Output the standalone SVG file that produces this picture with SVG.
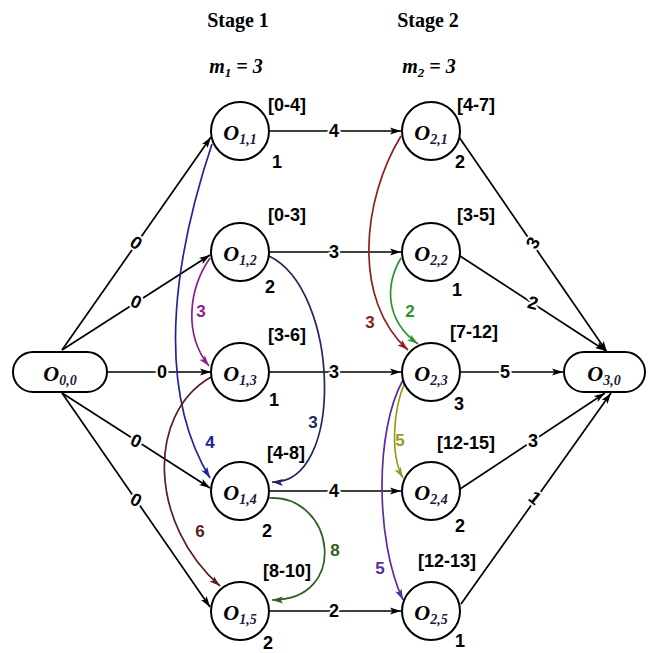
<svg xmlns="http://www.w3.org/2000/svg" width="648" height="653" viewBox="0 0 648 653">
  <style>
    .node { fill: #ffffff; stroke: #000000; stroke-width: 2; }
    .edge { fill: none; stroke: #000000; stroke-width: 1.7; }
    .arc { fill: none; stroke-width: 1.7; }
    .nlabel { font-family: "Liberation Serif", "Times New Roman", serif; font-weight: bold; font-style: italic; font-size: 22px; fill: #000000; }
    .nsub { font-size: 14px; fill: #1a1a3a; }
    .stage { font-family: "Liberation Serif", "Times New Roman", serif; font-weight: bold; font-size: 20px; fill: #000000; }
    .mlabel { font-family: "Liberation Serif", "Times New Roman", serif; font-weight: bold; font-style: italic; font-size: 20px; fill: #000000; }
    .info { font-family: "Liberation Sans", Arial, sans-serif; font-weight: bold; font-size: 18px; fill: #000000; }
    .wlabel { font-family: "Liberation Sans", Arial, sans-serif; font-weight: bold; font-size: 18px; fill: #000000; text-anchor: middle; paint-order: stroke; stroke: #ffffff; stroke-width: 4; stroke-linejoin: round; }
    .clabel { font-family: "Liberation Sans", Arial, sans-serif; font-weight: bold; font-size: 17px; text-anchor: middle; }
  </style>
  <defs>
    <marker id="ah-black" markerUnits="userSpaceOnUse" markerWidth="12" markerHeight="8" refX="11" refY="4" orient="auto"><path d="M0,0.5 L11,4 L0,7.5 L2.5,4 z" fill="#000000"/></marker>
    <marker id="ah-blue" markerUnits="userSpaceOnUse" markerWidth="12" markerHeight="8" refX="11" refY="4" orient="auto"><path d="M0,0.5 L11,4 L0,7.5 L2.5,4 z" fill="#23239a"/></marker>
    <marker id="ah-purple" markerUnits="userSpaceOnUse" markerWidth="12" markerHeight="8" refX="11" refY="4" orient="auto"><path d="M0,0.5 L11,4 L0,7.5 L2.5,4 z" fill="#8e1e8e"/></marker>
    <marker id="ah-navy" markerUnits="userSpaceOnUse" markerWidth="12" markerHeight="8" refX="11" refY="4" orient="auto"><path d="M0,0.5 L11,4 L0,7.5 L2.5,4 z" fill="#25255f"/></marker>
    <marker id="ah-brown" markerUnits="userSpaceOnUse" markerWidth="12" markerHeight="8" refX="11" refY="4" orient="auto"><path d="M0,0.5 L11,4 L0,7.5 L2.5,4 z" fill="#5a1e1e"/></marker>
    <marker id="ah-dkgreen" markerUnits="userSpaceOnUse" markerWidth="12" markerHeight="8" refX="11" refY="4" orient="auto"><path d="M0,0.5 L11,4 L0,7.5 L2.5,4 z" fill="#2e5e22"/></marker>
    <marker id="ah-red" markerUnits="userSpaceOnUse" markerWidth="12" markerHeight="8" refX="11" refY="4" orient="auto"><path d="M0,0.5 L11,4 L0,7.5 L2.5,4 z" fill="#8e2020"/></marker>
    <marker id="ah-green" markerUnits="userSpaceOnUse" markerWidth="12" markerHeight="8" refX="11" refY="4" orient="auto"><path d="M0,0.5 L11,4 L0,7.5 L2.5,4 z" fill="#2a962a"/></marker>
    <marker id="ah-olive" markerUnits="userSpaceOnUse" markerWidth="12" markerHeight="8" refX="11" refY="4" orient="auto"><path d="M0,0.5 L11,4 L0,7.5 L2.5,4 z" fill="#9a9a22"/></marker>
    <marker id="ah-indigo" markerUnits="userSpaceOnUse" markerWidth="12" markerHeight="8" refX="11" refY="4" orient="auto"><path d="M0,0.5 L11,4 L0,7.5 L2.5,4 z" fill="#5a2a9e"/></marker>
  </defs>

  <rect width="648" height="653" fill="#ffffff"/>

  <!-- stage headers -->
  <g id="headers">
    <text class="stage" x="238" y="27" text-anchor="middle">Stage 1</text>
    <text class="stage" x="428" y="27" text-anchor="middle">Stage 2</text>
    <text class="mlabel" x="236" y="73" text-anchor="middle">m<tspan font-size="13" dy="4">1</tspan><tspan dy="-4"> = 3</tspan></text>
    <text class="mlabel" x="429" y="73" text-anchor="middle">m<tspan font-size="13" dy="4">2</tspan><tspan dy="-4"> = 3</tspan></text>
  </g>

  <!-- connectors -->
  <g id="connectors">
    <!-- source to stage 1 -->
    <path class="edge" d="M62,350 L211,137" marker-end="url(#ah-black)"/>
    <path class="edge" d="M62,350 L210,255" marker-end="url(#ah-black)"/>
    <path class="edge" d="M107,372 L211,372" marker-end="url(#ah-black)"/>
    <path class="edge" d="M62,393 L210,488" marker-end="url(#ah-black)"/>
    <path class="edge" d="M62,393 L210,607" marker-end="url(#ah-black)"/>
    <!-- stage 1 to stage 2 -->
    <path class="edge" d="M269,131 L401,131" marker-end="url(#ah-black)"/>
    <path class="edge" d="M269,252 L401,252" marker-end="url(#ah-black)"/>
    <path class="edge" d="M269,372 L401,372" marker-end="url(#ah-black)"/>
    <path class="edge" d="M269,491 L401,491" marker-end="url(#ah-black)"/>
    <path class="edge" d="M269,611 L401,611" marker-end="url(#ah-black)"/>
    <!-- stage 2 to sink -->
    <path class="edge" d="M459,137 L607,352" marker-end="url(#ah-black)"/>
    <path class="edge" d="M460,256 L606,351" marker-end="url(#ah-black)"/>
    <path class="edge" d="M460,372 L563,372" marker-end="url(#ah-black)"/>
    <path class="edge" d="M460,489 L605,393" marker-end="url(#ah-black)"/>
    <path class="edge" d="M461,604 L611,393" marker-end="url(#ah-black)"/>

    <!-- weights on straight edges -->
    <text class="wlabel" transform="translate(136,243) rotate(35)" y="6">0</text>
    <text class="wlabel" transform="translate(136,302) rotate(25)" y="6">0</text>
    <text class="wlabel" x="162" y="378">0</text>
    <text class="wlabel" transform="translate(136,441) rotate(25)" y="6">0</text>
    <text class="wlabel" transform="translate(136,500) rotate(28)" y="6">0</text>
    <text class="wlabel" x="334" y="137">4</text>
    <text class="wlabel" x="334" y="258">3</text>
    <text class="wlabel" x="334" y="378">3</text>
    <text class="wlabel" x="334" y="497">4</text>
    <text class="wlabel" x="334" y="617">2</text>
    <text class="wlabel" transform="translate(533,243) rotate(-60)" y="6">3</text>
    <text class="wlabel" transform="translate(533,303) rotate(15)" y="6">2</text>
    <text class="wlabel" x="505" y="378">5</text>
    <text class="wlabel" transform="translate(533,441)" y="6">3</text>
    <text class="wlabel" transform="translate(535,498) rotate(40)" y="6">1</text>

    <!-- precedence arcs within stage 1 -->
    <path class="arc" stroke="#23239a" d="M212,144 C180,240 150,380 210,478" marker-end="url(#ah-blue)"/>
    <path class="arc" stroke="#8e1e8e" d="M210,258 C188,290 184,335 209,366" marker-end="url(#ah-purple)"/>
    <path class="arc" stroke="#25255f" d="M269,256 C340,290 345,485 272,482" marker-end="url(#ah-navy)"/>
    <path class="arc" stroke="#5a1e1e" d="M211,377 C145,415 150,525 220,586" marker-end="url(#ah-brown)"/>
    <path class="arc" stroke="#2e5e22" d="M269,498 C335,495 350,600 272,600" marker-end="url(#ah-dkgreen)"/>
    <!-- precedence arcs within stage 2 -->
    <path class="arc" stroke="#8e2020" d="M401,136 C362,200 352,300 408,350" marker-end="url(#ah-red)"/>
    <path class="arc" stroke="#2a962a" d="M401,258 C385,285 385,320 418,344" marker-end="url(#ah-green)"/>
    <path class="arc" stroke="#9a9a22" d="M405,382 C393,410 390,455 403,478" marker-end="url(#ah-olive)"/>
    <path class="arc" stroke="#5a2a9e" d="M403,380 C375,430 375,540 403,600" marker-end="url(#ah-indigo)"/>

    <!-- arc weights -->
    <text class="clabel" fill="#23239a" x="210" y="448">4</text>
    <text class="clabel" fill="#8e1e8e" x="201" y="317">3</text>
    <text class="clabel" fill="#25255f" x="313" y="428">3</text>
    <text class="clabel" fill="#5a1e1e" x="200" y="537">6</text>
    <text class="clabel" fill="#2e5e22" x="335" y="556">8</text>
    <text class="clabel" fill="#8e2020" x="370" y="328">3</text>
    <text class="clabel" fill="#2a962a" x="410" y="317">2</text>
    <text class="clabel" fill="#9a9a22" x="400" y="446">5</text>
    <text class="clabel" fill="#5a2a9e" x="380" y="574">5</text>
  </g>

  <!-- source and sink -->
  <g id="O00">
    <rect class="node" x="13" y="352" width="94" height="40" rx="20" ry="20"/>
    <text class="nlabel" x="60" y="381" text-anchor="middle">O<tspan class="nsub" dy="4">0,0</tspan></text>
  </g>
  <g id="O30">
    <rect class="node" x="564" y="352" width="81" height="40" rx="20" ry="20"/>
    <text class="nlabel" x="604" y="381" text-anchor="middle">O<tspan class="nsub" dy="4">3,0</tspan></text>
  </g>

  <!-- stage 1 operations -->
  <g id="O11">
    <circle class="node" cx="240" cy="131" r="29"/>
    <text class="nlabel" x="240" y="140" text-anchor="middle">O<tspan class="nsub" dy="4">1,1</tspan></text>
    <text class="info" x="268" y="111">[0-4]</text>
    <text class="info" x="277" y="168" text-anchor="middle">1</text>
  </g>
  <g id="O12">
    <circle class="node" cx="240" cy="252" r="29"/>
    <text class="nlabel" x="240" y="261" text-anchor="middle">O<tspan class="nsub" dy="4">1,2</tspan></text>
    <text class="info" x="268" y="221">[0-3]</text>
    <text class="info" x="270" y="293" text-anchor="middle">2</text>
  </g>
  <g id="O13">
    <circle class="node" cx="240" cy="372" r="29"/>
    <text class="nlabel" x="240" y="381" text-anchor="middle">O<tspan class="nsub" dy="4">1,3</tspan></text>
    <text class="info" x="268" y="341">[3-6]</text>
    <text class="info" x="274" y="406" text-anchor="middle">1</text>
  </g>
  <g id="O14">
    <circle class="node" cx="240" cy="491" r="29"/>
    <text class="nlabel" x="240" y="500" text-anchor="middle">O<tspan class="nsub" dy="4">1,4</tspan></text>
    <text class="info" x="267" y="459">[4-8]</text>
    <text class="info" x="267" y="537" text-anchor="middle">2</text>
  </g>
  <g id="O15">
    <circle class="node" cx="240" cy="611" r="29"/>
    <text class="nlabel" x="240" y="620" text-anchor="middle">O<tspan class="nsub" dy="4">1,5</tspan></text>
    <text class="info" x="263" y="577">[8-10]</text>
    <text class="info" x="268" y="649" text-anchor="middle">2</text>
  </g>

  <!-- stage 2 operations -->
  <g id="O21">
    <circle class="node" cx="431" cy="131" r="29"/>
    <text class="nlabel" x="431" y="140" text-anchor="middle">O<tspan class="nsub" dy="4">2,1</tspan></text>
    <text class="info" x="457" y="111">[4-7]</text>
    <text class="info" x="460" y="168" text-anchor="middle">2</text>
  </g>
  <g id="O22">
    <circle class="node" cx="431" cy="252" r="29"/>
    <text class="nlabel" x="431" y="261" text-anchor="middle">O<tspan class="nsub" dy="4">2,2</tspan></text>
    <text class="info" x="457" y="221">[3-5]</text>
    <text class="info" x="457" y="296" text-anchor="middle">1</text>
  </g>
  <g id="O23">
    <circle class="node" cx="431" cy="372" r="29"/>
    <text class="nlabel" x="431" y="381" text-anchor="middle">O<tspan class="nsub" dy="4">2,3</tspan></text>
    <text class="info" x="450" y="338">[7-12]</text>
    <text class="info" x="459" y="410" text-anchor="middle">3</text>
  </g>
  <g id="O24">
    <circle class="node" cx="431" cy="491" r="29"/>
    <text class="nlabel" x="431" y="500" text-anchor="middle">O<tspan class="nsub" dy="4">2,4</tspan></text>
    <text class="info" x="437" y="449">[12-15]</text>
    <text class="info" x="460" y="532" text-anchor="middle">2</text>
  </g>
  <g id="O25">
    <circle class="node" cx="431" cy="611" r="29"/>
    <text class="nlabel" x="431" y="620" text-anchor="middle">O<tspan class="nsub" dy="4">2,5</tspan></text>
    <text class="info" x="418" y="567">[12-13]</text>
    <text class="info" x="460" y="647" text-anchor="middle">1</text>
  </g>
</svg>
